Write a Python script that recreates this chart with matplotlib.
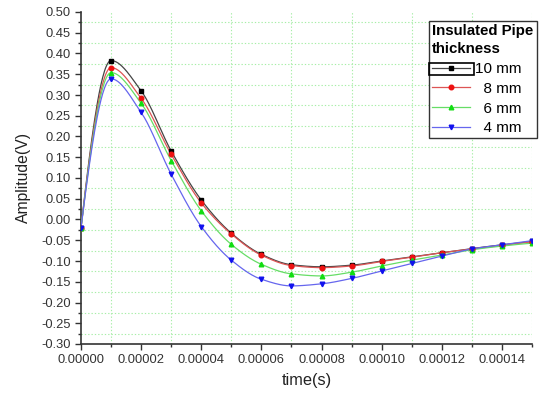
import numpy as np
import matplotlib
matplotlib.use("Agg")
import matplotlib.pyplot as plt
from matplotlib.ticker import MultipleLocator, FixedLocator, FuncFormatter
from matplotlib.patches import Rectangle

plt.rcParams['font.family'] = ['Liberation Sans', 'DejaVu Sans']

time_s = [0.0, 1e-5, 2e-5, 3e-5, 4e-5, 5e-5, 6e-5, 7e-5, 8e-5, 9e-5,
          10e-5, 11e-5, 12e-5, 13e-5, 14e-5, 15e-5]
amp_10mm = [-0.020, 0.383, 0.310, 0.165, 0.047, -0.033, -0.084, -0.109, -0.114,
            -0.110, -0.100, -0.090, -0.080, -0.070, -0.061, -0.053]
amp_8mm = [-0.020, 0.366, 0.292, 0.157, 0.040, -0.035, -0.086, -0.111, -0.116,
           -0.112, -0.101, -0.091, -0.080, -0.071, -0.062, -0.054]
amp_6mm = [-0.020, 0.354, 0.280, 0.142, 0.021, -0.060, -0.108, -0.131, -0.136,
           -0.127, -0.112, -0.098, -0.086, -0.073, -0.064, -0.057]
amp_4mm = [-0.020, 0.339, 0.258, 0.109, -0.017, -0.098, -0.144, -0.160, -0.155,
           -0.142, -0.124, -0.106, -0.088, -0.071, -0.061, -0.051]
labels = ["10 mm", "  8 mm", "  6 mm", "  4 mm"]
legend_title = "Insulated Pipe\nthickness"


def pchip(x, y, n=500):
    x = np.asarray(x, float)
    y = np.asarray(y, float)
    h = np.diff(x)
    dl = np.diff(y) / h
    N = len(x)
    d = np.zeros(N)
    for k in range(1, N - 1):
        if dl[k - 1] * dl[k] <= 0:
            d[k] = 0.0
        else:
            w1 = 2 * h[k] + h[k - 1]
            w2 = h[k] + 2 * h[k - 1]
            d[k] = (w1 + w2) / (w1 / dl[k - 1] + w2 / dl[k])

    def end(h0, h1, d0, d1):
        s = ((2 * h0 + h1) * d0 - h0 * d1) / (h0 + h1)
        if np.sign(s) != np.sign(d0):
            s = 0.0
        elif np.sign(d0) != np.sign(d1) and abs(s) > abs(3 * d0):
            s = 3 * d0
        return s
    d[0] = end(h[0], h[1], dl[0], dl[1])
    d[-1] = end(h[-1], h[-2], dl[-1], dl[-2])
    xs = np.linspace(x[0], x[-1], n)
    idx = np.clip(np.searchsorted(x, xs) - 1, 0, N - 2)
    t = (xs - x[idx]) / h[idx]
    h00 = 2 * t ** 3 - 3 * t ** 2 + 1
    h10 = t ** 3 - 2 * t ** 2 + t
    h01 = -2 * t ** 3 + 3 * t ** 2
    h11 = t ** 3 - t ** 2
    ys = h00 * y[idx] + h10 * h[idx] * d[idx] + h01 * y[idx + 1] + h11 * h[idx] * d[idx + 1]
    return xs, ys


fig = plt.figure(figsize=(5.44, 3.99), dpi=100)
ax = fig.add_axes([81 / 544, 1 - 344 / 399, (532 - 81) / 544, (344 - 12) / 399])

series = [amp_10mm, amp_8mm, amp_6mm, amp_4mm]
mcolors = ['#000000', '#ee1111', '#11dd11', '#1111ee']
lcolors = ['#444444', '#dd5555', '#66dd66', '#6666ee']
markers = ['s', 'o', '^', 'v']
handles = []
for ys, mc, lc, mk, lab in zip(series, mcolors, lcolors, markers, labels):
    xs_s, ys_s = pchip(time_s, ys)
    ax.plot(xs_s, ys_s, color=lc, lw=0.9, zorder=3)
    ax.plot(time_s, ys, ls='none', marker=mk, color=mc, ms=3.3, zorder=4)
    h, = ax.plot([], [], color=lc, lw=0.9, marker=mk, mfc=mc, mec=mc, ms=3.3, label=lab)
    handles.append(h)

ax.set_xlim(0, 15e-5)
ax.set_ylim(-0.30, 0.50)
ax.xaxis.set_major_locator(FixedLocator(np.arange(0, 15.5e-5, 2e-5)))
ax.xaxis.set_minor_locator(FixedLocator(np.arange(1e-5, 15.5e-5, 2e-5)))
ax.xaxis.set_major_formatter(FuncFormatter(lambda v, p: f"{v:.5f}"))
ax.yaxis.set_major_locator(MultipleLocator(0.05))
ax.yaxis.set_minor_locator(MultipleLocator(0.025))
ax.yaxis.set_major_formatter(FuncFormatter(lambda v, p: f"{v:.2f}"))

# grid at minor positions
for xv in np.arange(1e-5, 15.5e-5, 2e-5):
    ax.axvline(xv, color='#a8eea8', lw=0.8, ls=(0, (1.2, 1.8)), zorder=1)
for yv in np.arange(-0.275, 0.5, 0.05):
    ax.axhline(yv, color='#a8eea8', lw=0.8, ls=(0, (1.2, 1.8)), zorder=1)

for s in ['top', 'right']:
    ax.spines[s].set_visible(False)
for s in ['left', 'bottom']:
    ax.spines[s].set_color('#333333')
    ax.spines[s].set_linewidth(1.2)
ax.tick_params(which='major', direction='out', length=4, width=1, colors='#333333',
               labelsize=9.3, labelcolor='#333333')
ax.tick_params(which='minor', direction='out', length=2.5, width=1, colors='#333333')

ax.set_xlabel("time(s)", fontsize=11.8, color='#222222', labelpad=5)
ax.set_ylabel("Amplitude(V)", fontsize=11.3, color='#222222', labelpad=7)

leg = ax.legend(handles=handles, title=legend_title, loc='upper right',
                bbox_to_anchor=(1.027, 0.995), fontsize=11, frameon=True,
                fancybox=False, edgecolor='#333333', framealpha=1,
                handlelength=2.5, handletextpad=0.3, labelspacing=0.38,
                borderpad=0.2, alignment='left')
leg.get_title().set_fontsize(10.8)
leg.get_title().set_fontweight('bold')
leg.get_title().set_ha('left')
leg.get_title().set_linespacing(1.35)
leg.get_frame().set_linewidth(1.0)

fig.canvas.draw()
hb = leg.legend_handles[0].get_window_extent()
tb = leg.get_texts()[0].get_window_extent()
inv = fig.transFigure.inverted()
x0, y0 = inv.transform((hb.x0 - 1, tb.y0 + 1))
x1, y1 = inv.transform((hb.x1 + 1, tb.y1 - 1))
fig.patches.append(Rectangle((x0, y0), x1 - x0, y1 - y0, transform=fig.transFigure,
                             fill=False, ec='black', lw=1.2, zorder=10))

fig.savefig("out.png", dpi=100)
